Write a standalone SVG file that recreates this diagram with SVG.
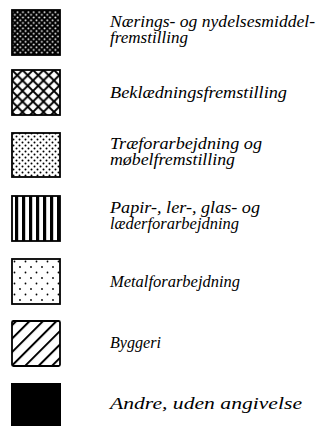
<svg xmlns="http://www.w3.org/2000/svg" width="332" height="426" viewBox="0 0 332 426">
<style>
  .sw { stroke: #000; stroke-width: 1.8; }
  .lbl { font-family: "Liberation Serif", serif; font-style: italic; font-size: 16px; fill: #000; }
</style>
<defs>
  <pattern id="p1" patternUnits="userSpaceOnUse" width="5.4" height="5.4">
    <rect width="5.4" height="5.4" fill="#000"/>
    <circle cx="1.35" cy="1.35" r="0.95" fill="#fff"/>
    <circle cx="4.05" cy="4.05" r="0.95" fill="#fff"/>
  </pattern>
  <pattern id="p2" patternUnits="userSpaceOnUse" width="10.5" height="10.5" x="12" y="70">
    <rect width="10.5" height="10.5" fill="#fff"/>
    <path d="M-1,-1 L11.5,11.5 M11.5,-1 L-1,11.5" stroke="#000" stroke-width="1.9"/>
  </pattern>
  <pattern id="p3" patternUnits="userSpaceOnUse" width="6" height="6">
    <rect width="6" height="6" fill="#fff"/>
    <circle cx="1.5" cy="1.5" r="1" fill="#000"/>
    <circle cx="4.5" cy="4.5" r="1" fill="#000"/>
  </pattern>
  <pattern id="p4" patternUnits="userSpaceOnUse" width="7" height="10" x="13">
    <rect width="7" height="10" fill="#fff"/>
    <rect x="2" width="3.2" height="10" fill="#000"/>
  </pattern>
  <pattern id="p5" patternUnits="userSpaceOnUse" width="11" height="11" x="12" y="259">
    <rect width="11" height="11" fill="#fff"/>
    <circle cx="2.5" cy="2.5" r="0.9" fill="#000"/>
    <circle cx="8" cy="8" r="0.9" fill="#000"/>
  </pattern>
  <pattern id="p6" patternUnits="userSpaceOnUse" width="9.5" height="9.5" patternTransform="rotate(45)">
    <rect width="9.5" height="9.5" fill="#fff"/>
    <rect x="0" width="2" height="9.5" fill="#000"/>
  </pattern>
</defs>
<rect width="332" height="426" fill="#fff"/>

<g id="item1">
  <rect class="sw" x="12" y="10" width="48" height="45" fill="url(#p1)"/>
  <text class="lbl"><tspan x="110" y="27" textLength="205" lengthAdjust="spacingAndGlyphs">Nærings- og nydelsesmiddel-</tspan><tspan x="110" y="43" textLength="78" lengthAdjust="spacingAndGlyphs">fremstilling</tspan></text>
</g>
<g id="item2">
  <rect class="sw" x="12" y="70" width="48" height="45" fill="url(#p2)"/>
  <text class="lbl" x="110" y="98" textLength="177" lengthAdjust="spacingAndGlyphs">Beklædningsfremstilling</text>
</g>
<g id="item3">
  <rect class="sw" x="12" y="133" width="48" height="44" fill="url(#p3)"/>
  <text class="lbl"><tspan x="110" y="149" textLength="152" lengthAdjust="spacingAndGlyphs">Træforarbejdning og</tspan><tspan x="110" y="165" textLength="125" lengthAdjust="spacingAndGlyphs">møbelfremstilling</tspan></text>
</g>
<g id="item4">
  <rect class="sw" x="12" y="196" width="48" height="45" fill="url(#p4)"/>
  <text class="lbl"><tspan x="110" y="213" textLength="150" lengthAdjust="spacingAndGlyphs">Papir-, ler-, glas- og</tspan><tspan x="110" y="229" textLength="129" lengthAdjust="spacingAndGlyphs">læderforarbejdning</tspan></text>
</g>
<g id="item5">
  <rect class="sw" x="12" y="259" width="48" height="45" fill="url(#p5)" stroke-width="1.4"/>
  <text class="lbl" x="110" y="287" textLength="130" lengthAdjust="spacingAndGlyphs">Metalforarbejdning</text>
</g>
<g id="item6">
  <rect class="sw" x="12" y="321" width="48" height="45" rx="1.5" fill="url(#p6)"/>
  <text class="lbl" x="110" y="348" textLength="51" lengthAdjust="spacingAndGlyphs">Byggeri</text>
</g>
<g id="item7">
  <rect x="11" y="383" width="50" height="43" fill="#000"/>
  <text class="lbl" x="110" y="409" textLength="192" lengthAdjust="spacingAndGlyphs">Andre, uden angivelse</text>
</g>
<g id="connectors"/>
</svg>
